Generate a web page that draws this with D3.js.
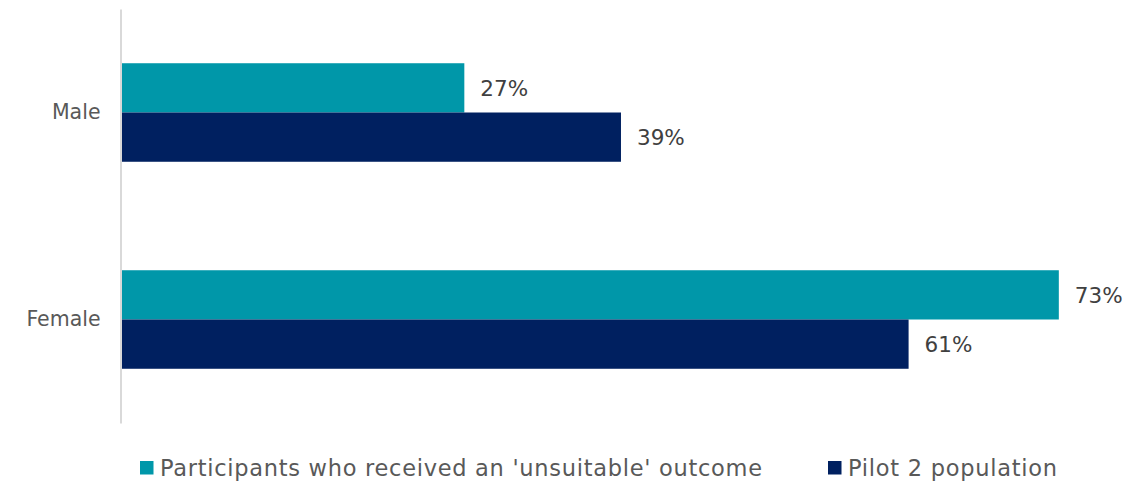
<!DOCTYPE html>
<html><head><meta charset="utf-8">
<script src="https://cdn.jsdelivr.net/npm/d3@7"></script>
<style>body{margin:0;background:#fff}svg{display:block}text{font-family:"DejaVu Sans",Verdana,sans-serif}</style>
</head><body>
<svg id="c" width="1130" height="482"></svg>
<script>
const categories = ["Male", "Female"];
const seriesNames = ["Participants who received an 'unsuitable' outcome", "Pilot 2 population"];
const unsuitable = [26.7, 73.0];
const pilot2 = [38.9, 61.3];
const colors = ["#0097A9", "#002060"];

const svg = d3.select("#c");
const x0 = 121.5, pxPer = 12.84;
const x = d3.scaleLinear().domain([0, 80]).range([x0, x0 + 80 * pxPer]);
const y = d3.scaleBand().domain(categories).range([9, 423]).paddingInner(0.524).paddingOuter(0.262);
const yi = d3.scaleBand().domain(seriesNames).range([0, y.bandwidth()]).padding(0);

const data = categories.map((c, i) => ({cat: c, vals: [unsuitable[i], pilot2[i]]}));

const g = svg.selectAll("g.cat").data(data).join("g").attr("class", "cat")
  .attr("transform", d => `translate(0,${y(d.cat)})`);
g.selectAll("rect").data(d => d.vals.map((v, j) => ({v, s: seriesNames[j], j})))
  .join("rect")
  .attr("x", x(0)).attr("y", d => yi(d.s))
  .attr("width", d => x(d.v) - x(0)).attr("height", yi.bandwidth())
  .attr("fill", d => colors[d.j]);
g.selectAll("text.lbl").data(d => d.vals.map((v, j) => ({v, s: seriesNames[j], j})))
  .join("text").attr("class", "lbl")
  .attr("x", d => x(d.v) + 16).attr("y", d => yi(d.s) + yi.bandwidth() / 2)
  .attr("dy", "0.36em").attr("font-size", 21.5).attr("fill", "#404040")
  .text(d => Math.round(d.v) + "%");

const ax = svg.append("g").attr("transform", `translate(${x0 - 1},0)`)
  .call(d3.axisLeft(y).tickSize(0).tickPadding(20));
ax.select(".domain").attr("stroke", "#d9d9d9").attr("stroke-width", 2);
ax.selectAll(".tick text").attr("font-size", 20.5).attr("fill", "#595959")
  .attr("font-family", "DejaVu Sans, Verdana, sans-serif");

const legendX = [140, 828];
const legendW = [602, 209];
const lg = svg.selectAll("g.leg").data(seriesNames).join("g").attr("class", "leg")
  .attr("transform", (d, i) => `translate(${legendX[i]},461)`);
lg.append("rect").attr("width", 13.5).attr("height", 13.5).attr("fill", (d, i) => colors[i]);
lg.append("text").attr("x", 20).attr("y", 7).attr("dy", "0.36em")
  .attr("font-size", 22.5).attr("fill", "#595959")
  .attr("textLength", (d, i) => legendW[i]).attr("lengthAdjust", "spacing")
  .text(d => d);
</script>
</body></html>
